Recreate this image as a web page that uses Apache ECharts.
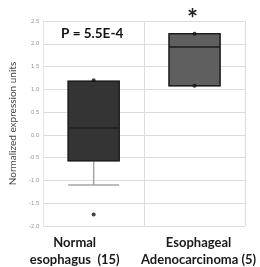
<!DOCTYPE html>
<html>
<head>
<meta charset="utf-8">
<script src="https://cdn.jsdelivr.net/npm/echarts@6/dist/echarts.min.js"></script>
<style>
  html, body { margin: 0; padding: 0; background: #fff; }
  #chart { width: 260px; height: 267px; }
</style>
</head>
<body>
<div id="chart"></div>
<script>
// groups on the x axis
var categories = ['Normal\nesophagus  (15)', 'Esophageal\nAdenocarcinoma (5)']
// [min, Q1, median, Q3, max] per group
var boxValues = [
    [-1.1, -0.57, 0.15, 1.18, 1.18],
    [1.08, 1.08, 1.93, 2.22, 2.22]
]
// single points drawn as dots: [group index, value]
var dotValues = [[0, 1.2], [0, -1.75], [1, 2.22], [1, 1.08]]
var yTicks = { min: -2, max: 2.5, interval: 0.5 }
var pText = 'P = 5.5E-4'

var boxColors = ['#343434', '#5f5f5f']

var echart = echarts.init(document.getElementById('chart'))

var options = {
    backgroundColor: '#fff',
    animation: false,
    grid: {
        left: 40,
        right: 15,
        top: 21,
        bottom: 41
    },
    xAxis: [
        {
            type: 'category',
            data: categories,
            axisLine: { show: false },
            axisTick: { show: false },
            splitLine: { show: true, lineStyle: { color: '#dcdcdc', width: 1 } },
            axisLabel: {
                interval: 0,
                margin: 8,
                formatter: function (v, i) {
                    return v.split('\n').map(function (s) {
                        return '{' + (i === 0 ? 'a' : 'b') + '|' + s + '}'
                    }).join('\n')
                },
                rich: {
                    a: { fontFamily: 'Lato', fontWeight: 'bold', fontSize: 13, color: '#1a1a1a', lineHeight: 17, padding: [0, 38, 0, 0] },
                    b: { fontFamily: 'Lato', fontWeight: 'bold', fontSize: 13, color: '#1a1a1a', lineHeight: 17, padding: [0, 0, 0, 8] }
                }
            }
        },
        {
            type: 'category',
            data: categories,
            show: false
        }
    ],
    yAxis: {
        type: 'value',
        min: yTicks.min,
        max: yTicks.max,
        interval: yTicks.interval,
        name: 'Normalized expression units',
        nameLocation: 'middle',
        nameGap: 22,
        nameTextStyle: { fontFamily: 'Lato', fontSize: 10, color: '#444' },
        axisLine: { show: true, lineStyle: { color: '#e4e4e4' } },
        axisTick: { show: false },
        splitLine: { lineStyle: { color: '#dcdcdc', width: 1 } },
        axisLabel: {
            fontSize: 6,
            color: '#9a9a9a',
            margin: 4,
            formatter: function (v) { return v.toFixed(1) }
        }
    },
    series: [
        {
            // whiskers
            type: 'boxplot',
            xAxisIndex: 0,
            boxWidth: [51, 51],
            itemStyle: { color: '#fff', borderColor: '#a6a6a6', borderWidth: 1.5 },
            data: boxValues
        },
        {
            // boxes with median line
            type: 'boxplot',
            xAxisIndex: 1,
            boxWidth: [51, 51],
            itemStyle: { borderColor: '#1e1e1e', borderWidth: 1.5 },
            data: boxValues.map(function (b, i) {
                return { value: [b[1], b[1], b[2], b[3], b[3]], itemStyle: { color: boxColors[i] } }
            })
        },
        {
            type: 'scatter',
            xAxisIndex: 0,
            symbol: 'circle',
            symbolSize: 4,
            itemStyle: { color: '#111' },
            data: dotValues
        }
    ],
    graphic: [
        {
            type: 'text',
            left: 61,
            top: 27,
            style: { text: pText, fontFamily: 'Lato', fontWeight: 'bold', fontSize: 13.5, fill: '#111' }
        },
        {
            type: 'text',
            left: 187,
            top: 7,
            style: { text: '*', fontFamily: 'Lato', fontWeight: 'bold', fontSize: 26, fill: '#222' }
        }
    ]
}
echart.setOption(options)
</script>
</body>
</html>
